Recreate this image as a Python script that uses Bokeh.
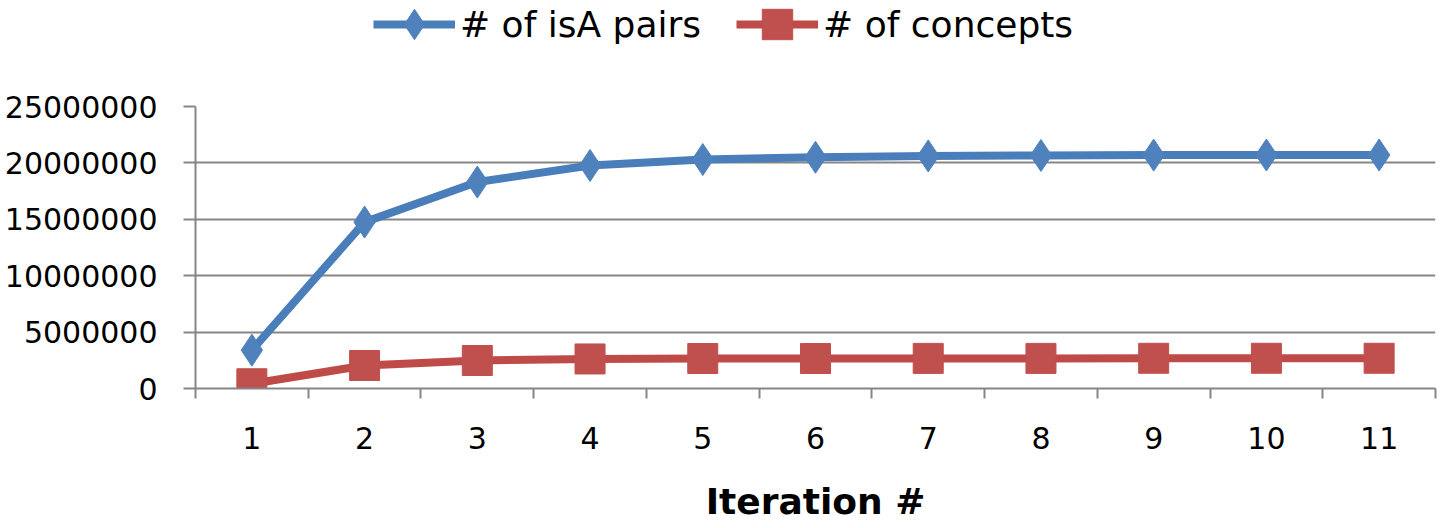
from bokeh.plotting import figure
from bokeh.models import (Range1d, FixedTicker, Legend, LegendItem)
from bokeh.layouts import column
from bokeh.embed import file_html
from bokeh.resources import INLINE

# ---- data ----
iterations = [1, 2, 3, 4, 5, 6, 7, 8, 9, 10, 11]
isa_pairs = [3400000, 14750000, 18300000, 19770000, 20300000, 20500000,
             20620000, 20660000, 20690000, 20700000, 20700000]
concepts = [420000, 2040000, 2480000, 2620000, 2660000, 2660000,
            2670000, 2670000, 2680000, 2680000, 2680000]
y_ticks = [0, 5000000, 10000000, 15000000, 20000000, 25000000]
y_tick_labels = ["0", "5000000", "10000000", "15000000", "20000000", "25000000"]
series_names = ["# of isA pairs", "# of concepts"]
x_label = "Iteration #"

FONT = "DejaVu Sans"
GRID = "#868686"
BLUE = "#4A7EBB"
BLUE_M = "#4F81BD"
RED = "#BE4B48"
RED_M = "#C0504D"


def add_series(fig):
    l1 = fig.line(iterations, isa_pairs, line_color=BLUE, line_width=8)
    m1 = fig.scatter(iterations, isa_pairs, marker="diamond", size=32,
                     fill_color=BLUE_M, line_color=BLUE_M)
    l2 = fig.line(iterations, concepts, line_color=RED, line_width=8)
    m2 = fig.scatter(iterations, concepts, marker="square", size=30,
                     fill_color=RED_M, line_color=RED_M)
    return l1, m1, l2, m2


# ---- main chart ----
p = figure(width=1441, height=442, output_backend="svg", toolbar_location=None,
           x_range=Range1d(iterations[0] - 0.5, iterations[-1] + 0.5),
           y_range=Range1d(y_ticks[0], y_ticks[-1]),
           min_border_left=195, min_border_right=6, min_border_top=20,
           min_border_bottom=140)
p.outline_line_color = None
p.xgrid.visible = False
p.ygrid.ticker = FixedTicker(ticks=y_ticks)
p.ygrid.grid_line_color = GRID
p.ygrid.grid_line_width = 2

ya = p.yaxis[0]
ya.ticker = FixedTicker(ticks=y_ticks, minor_ticks=[])
ya.major_label_overrides = {t: l for t, l in zip(y_ticks, y_tick_labels)}
ya.axis_line_color = GRID
ya.axis_line_width = 2
ya.major_tick_line_color = GRID
ya.major_tick_line_width = 2
ya.major_tick_out = 12
ya.major_tick_in = 0
ya.minor_tick_line_color = None
ya.major_label_standoff = 26
ya.major_label_text_font = FONT
ya.major_label_text_font_size = "30px"
ya.major_label_text_color = "black"

xa = p.xaxis[0]
bounds = [i - 0.5 for i in iterations] + [iterations[-1] + 0.5]
xa.ticker = FixedTicker(ticks=iterations, minor_ticks=bounds)
xa.axis_line_color = GRID
xa.axis_line_width = 2
xa.major_tick_out = 0
xa.major_tick_in = 0
xa.major_tick_line_color = None
xa.minor_tick_out = 10
xa.minor_tick_in = 0
xa.minor_tick_line_color = GRID
xa.minor_tick_line_width = 2
xa.major_label_standoff = 28
xa.major_label_text_font = FONT
xa.major_label_text_font_size = "30px"
xa.major_label_text_color = "black"
xa.axis_label = x_label
xa.axis_label_text_font = FONT
xa.axis_label_text_font_style = "bold"
xa.axis_label_text_font_size = "36px"
xa.axis_label_text_color = "black"
xa.axis_label_standoff = 29

add_series(p)

# ---- legend strip (series drawn out of view, only the legend shows) ----
lg = figure(width=1441, height=86, output_backend="svg", toolbar_location=None,
            x_range=Range1d(-3, -2), y_range=Range1d(-3, -2),
            x_axis_location=None, y_axis_location=None, min_border=0)
lg.outline_line_color = None
lg.grid.visible = False
r1, r2, r3, r4 = add_series(lg)
legend = Legend(items=[LegendItem(label=series_names[0], renderers=[r1, r2]),
                       LegendItem(label=series_names[1], renderers=[r3, r4])],
                location=(178, 24), orientation="horizontal",
                glyph_width=82, glyph_height=76, label_standoff=5, spacing=35,
                padding=0, margin=0, border_line_color=None,
                background_fill_alpha=0,
                label_text_font=FONT, label_text_font_size="36px",
                label_text_color="black")
lg.add_layout(legend, "center")

layout = column(lg, p, spacing=0)
open("out.html", "w").write(file_html(layout, INLINE))
